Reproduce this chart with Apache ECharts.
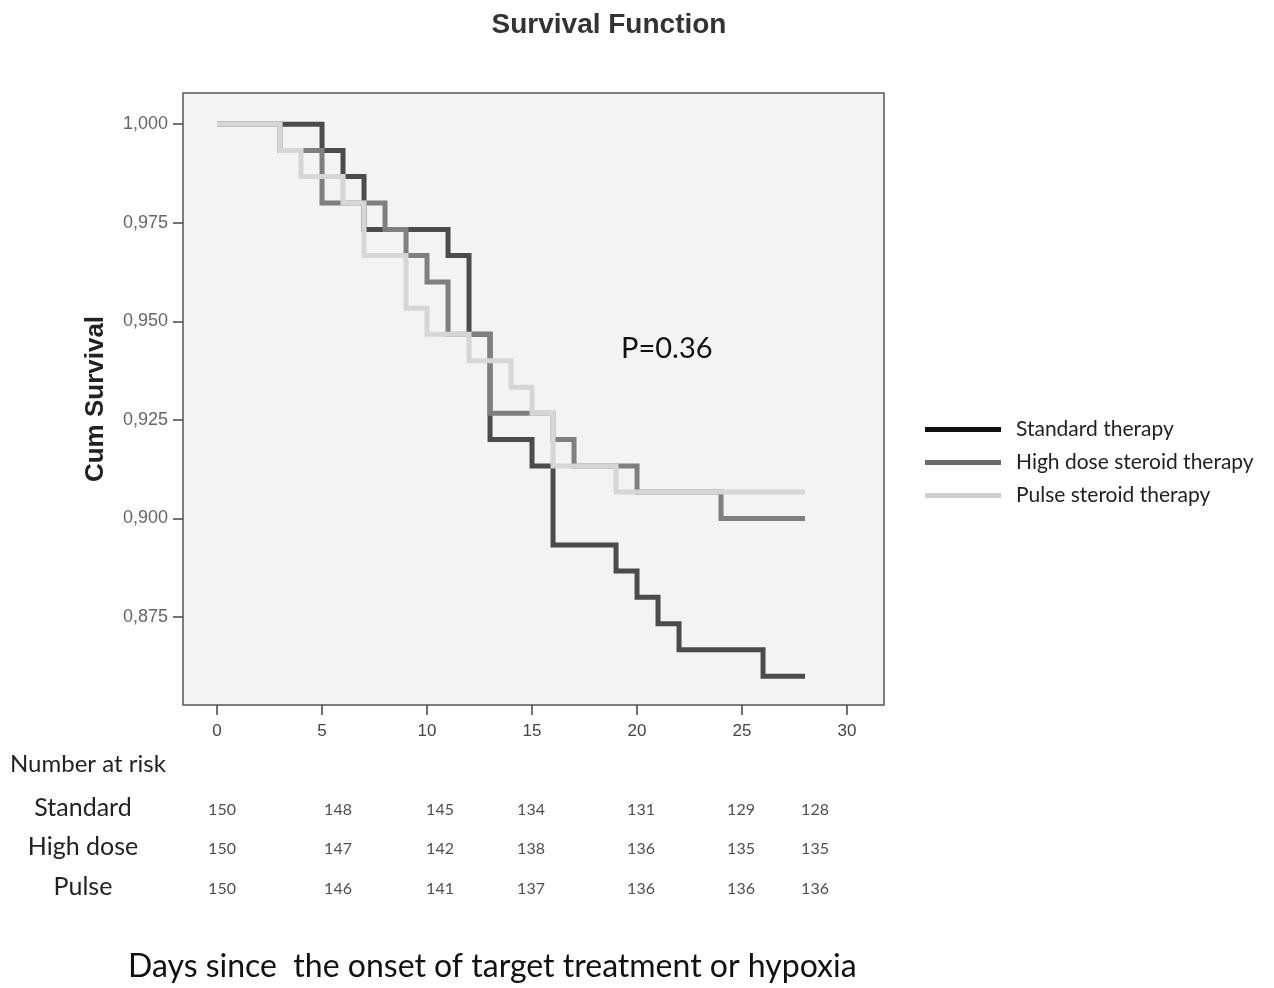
<!DOCTYPE html>
<html>
<head>
<meta charset="utf-8">
<script src="https://cdn.jsdelivr.net/npm/echarts@6/dist/echarts.min.js"></script>
<style>
html,body{margin:0;padding:0;background:#fff;}
#chart{width:1274px;height:988px;}
</style>
</head>
<body>
<div id="chart"></div>
<script>
// ---- data ----
const seriesNames = ['Standard therapy', 'High dose steroid therapy', 'Pulse steroid therapy'];
const standardDays = [0, 5, 6, 7, 11, 12, 13, 15, 16, 19, 20, 21, 22, 26, 28];
const standardSurv = [1.000, 0.9933, 0.9867, 0.9733, 0.9667, 0.9467, 0.9200, 0.9133, 0.8933, 0.8867, 0.8800, 0.8733, 0.8667, 0.8600, 0.8600];
const highDays = [0, 3, 5, 8, 9, 10, 11, 13, 16, 17, 20, 24, 28];
const highSurv = [1.000, 0.9933, 0.9800, 0.9733, 0.9667, 0.9600, 0.9467, 0.9267, 0.9200, 0.9133, 0.9067, 0.9000, 0.9000];
const pulseDays = [0, 3, 4, 6, 7, 9, 10, 12, 14, 15, 16, 19, 28];
const pulseSurv = [1.000, 0.9933, 0.9867, 0.9800, 0.9667, 0.9533, 0.9467, 0.9400, 0.9333, 0.9267, 0.9133, 0.9067, 0.9067];
const xTicks = [0, 5, 10, 15, 20, 25, 30];
const yTicks = [0.875, 0.900, 0.925, 0.950, 0.975, 1.000];
const riskGroups = ['Standard', 'High dose', 'Pulse'];
const riskDays = [0, 5, 10, 15, 20, 25, 28];
const riskStandard = [150, 148, 145, 134, 131, 129, 128];
const riskHigh = [150, 147, 142, 138, 136, 135, 135];
const riskPulse = [150, 146, 141, 137, 136, 136, 136];
const pValueText = 'P=0.36';

// ---- layout / style ----
const riskLabelDx = [5, 16, 13, -1, 4, -1, 10];
const lineColors = ['#4b4b4b', '#7f7f7f', '#d6d6d6'];
const legendColors = ['#111111', '#6a6a6a', '#cfcfcf'];
const X_MIN = -1.62, X_MAX = 31.76, Y_MIN = 0.8527, Y_MAX = 1.0079;
const GRID = {left: 183, top: 93, width: 701, height: 612};
const narrowFont = 'Lato';

function pairs(xs, ys) { return xs.map((x, i) => [x, ys[i]]); }

const chart = echarts.init(document.getElementById('chart'), null, {renderer: 'canvas'});

const survSeries = [
  pairs(standardDays, standardSurv),
  pairs(highDays, highSurv),
  pairs(pulseDays, pulseSurv)
].map((d, i) => ({
  name: seriesNames[i],
  type: 'line',
  step: 'end',
  data: d,
  xAxisIndex: 0, yAxisIndex: 0,
  symbol: 'none',
  lineStyle: {color: lineColors[i], width: 5, cap: 'butt', join: 'miter'},
  itemStyle: {color: lineColors[i]},
  z: 2 + i,
  animation: false
}));

const riskRows = [riskStandard, riskHigh, riskPulse];
const riskSeries = riskRows.map((row, r) => ({
  type: 'scatter',
  xAxisIndex: 1, yAxisIndex: 1,
  symbol: 'circle', symbolSize: 1,
  itemStyle: {color: 'rgba(0,0,0,0)'},
  silent: true,
  animation: false,
  data: row.map((v, i) => ({
    value: [riskDays[i], riskGroups[r]],
    label: {
      show: true,
      formatter: String(v),
      position: 'inside',
      offset: [riskLabelDx[i], 2],
      fontFamily: narrowFont,
      fontSize: 16,
      color: '#222'
    }
  }))
}));

const option = {
  backgroundColor: '#ffffff',
  animation: false,
  title: {
    text: 'Survival Function',
    left: 604, top: 6, textAlign: 'center',
    textStyle: {fontFamily: 'Liberation Sans', fontSize: 28, fontWeight: 'bold', color: '#333'}
  },
  legend: {
    orient: 'vertical',
    left: 920, top: 413,
    icon: 'rect',
    itemWidth: 76, itemHeight: 5,
    itemGap: 10,
    textStyle: {fontFamily: narrowFont, fontSize: 21, color: '#222', lineHeight: 23, padding: [0, 0, 0, 10]},
    data: seriesNames.map((n, i) => ({name: n, itemStyle: {color: legendColors[i]}}))
  },
  grid: [
    Object.assign({show: true, backgroundColor: '#f3f3f3', borderColor: '#555', borderWidth: 1.5}, GRID),
    {left: GRID.left, width: GRID.width, top: 788, height: 118.5, show: false}
  ],
  xAxis: [
    {
      gridIndex: 0, type: 'value', min: X_MIN, max: X_MAX,
      axisLine: {show: false, onZero: false},
      splitLine: {show: false},
      axisTick: {show: true, length: 10, customValues: xTicks, lineStyle: {color: '#444', width: 1.5}},
      axisLabel: {customValues: xTicks, margin: 18, fontFamily: 'Liberation Sans', fontSize: 17, color: '#444'}
    },
    {
      gridIndex: 1, type: 'value', min: X_MIN, max: X_MAX, show: false
    }
  ],
  yAxis: [
    {
      gridIndex: 0, type: 'value', min: Y_MIN, max: Y_MAX,
      name: 'Cum Survival', nameLocation: 'middle', nameGap: 74, nameRotate: 90,
      nameTextStyle: {fontFamily: 'Liberation Sans', fontSize: 26, fontWeight: 'bold', color: '#222'},
      axisLine: {show: false, onZero: false},
      splitLine: {show: false},
      axisTick: {show: true, length: 10, customValues: yTicks, lineStyle: {color: '#444', width: 1.5}},
      axisLabel: {
        customValues: yTicks, margin: 15, fontFamily: 'Liberation Sans', fontSize: 18, color: '#666',
        formatter: v => v.toFixed(3).replace('.', ',')
      }
    },
    {
      gridIndex: 1, type: 'category', data: riskGroups, inverse: true,
      axisLine: {show: false, onZero: false}, axisTick: {show: false}, splitLine: {show: false},
      axisLabel: {show: true, align: 'center', margin: 100, fontFamily: narrowFont, fontSize: 25, color: '#222'}
    }
  ],
  graphic: [
    {type: 'text', left: 10, top: 752, style: {text: 'Number at risk', font: '24px ' + narrowFont, fill: '#222'}},
    {type: 'text', left: 621, top: 334, style: {text: pValueText, font: '29px ' + narrowFont, fill: '#111'}},
    {type: 'text', left: 128, top: 951, style: {text: 'Days since  the onset of target treatment or hypoxia', font: '32px ' + narrowFont, fill: '#111'}}
  ],
  series: survSeries.concat(riskSeries)
};
chart.setOption(option);
</script>
</body>
</html>
